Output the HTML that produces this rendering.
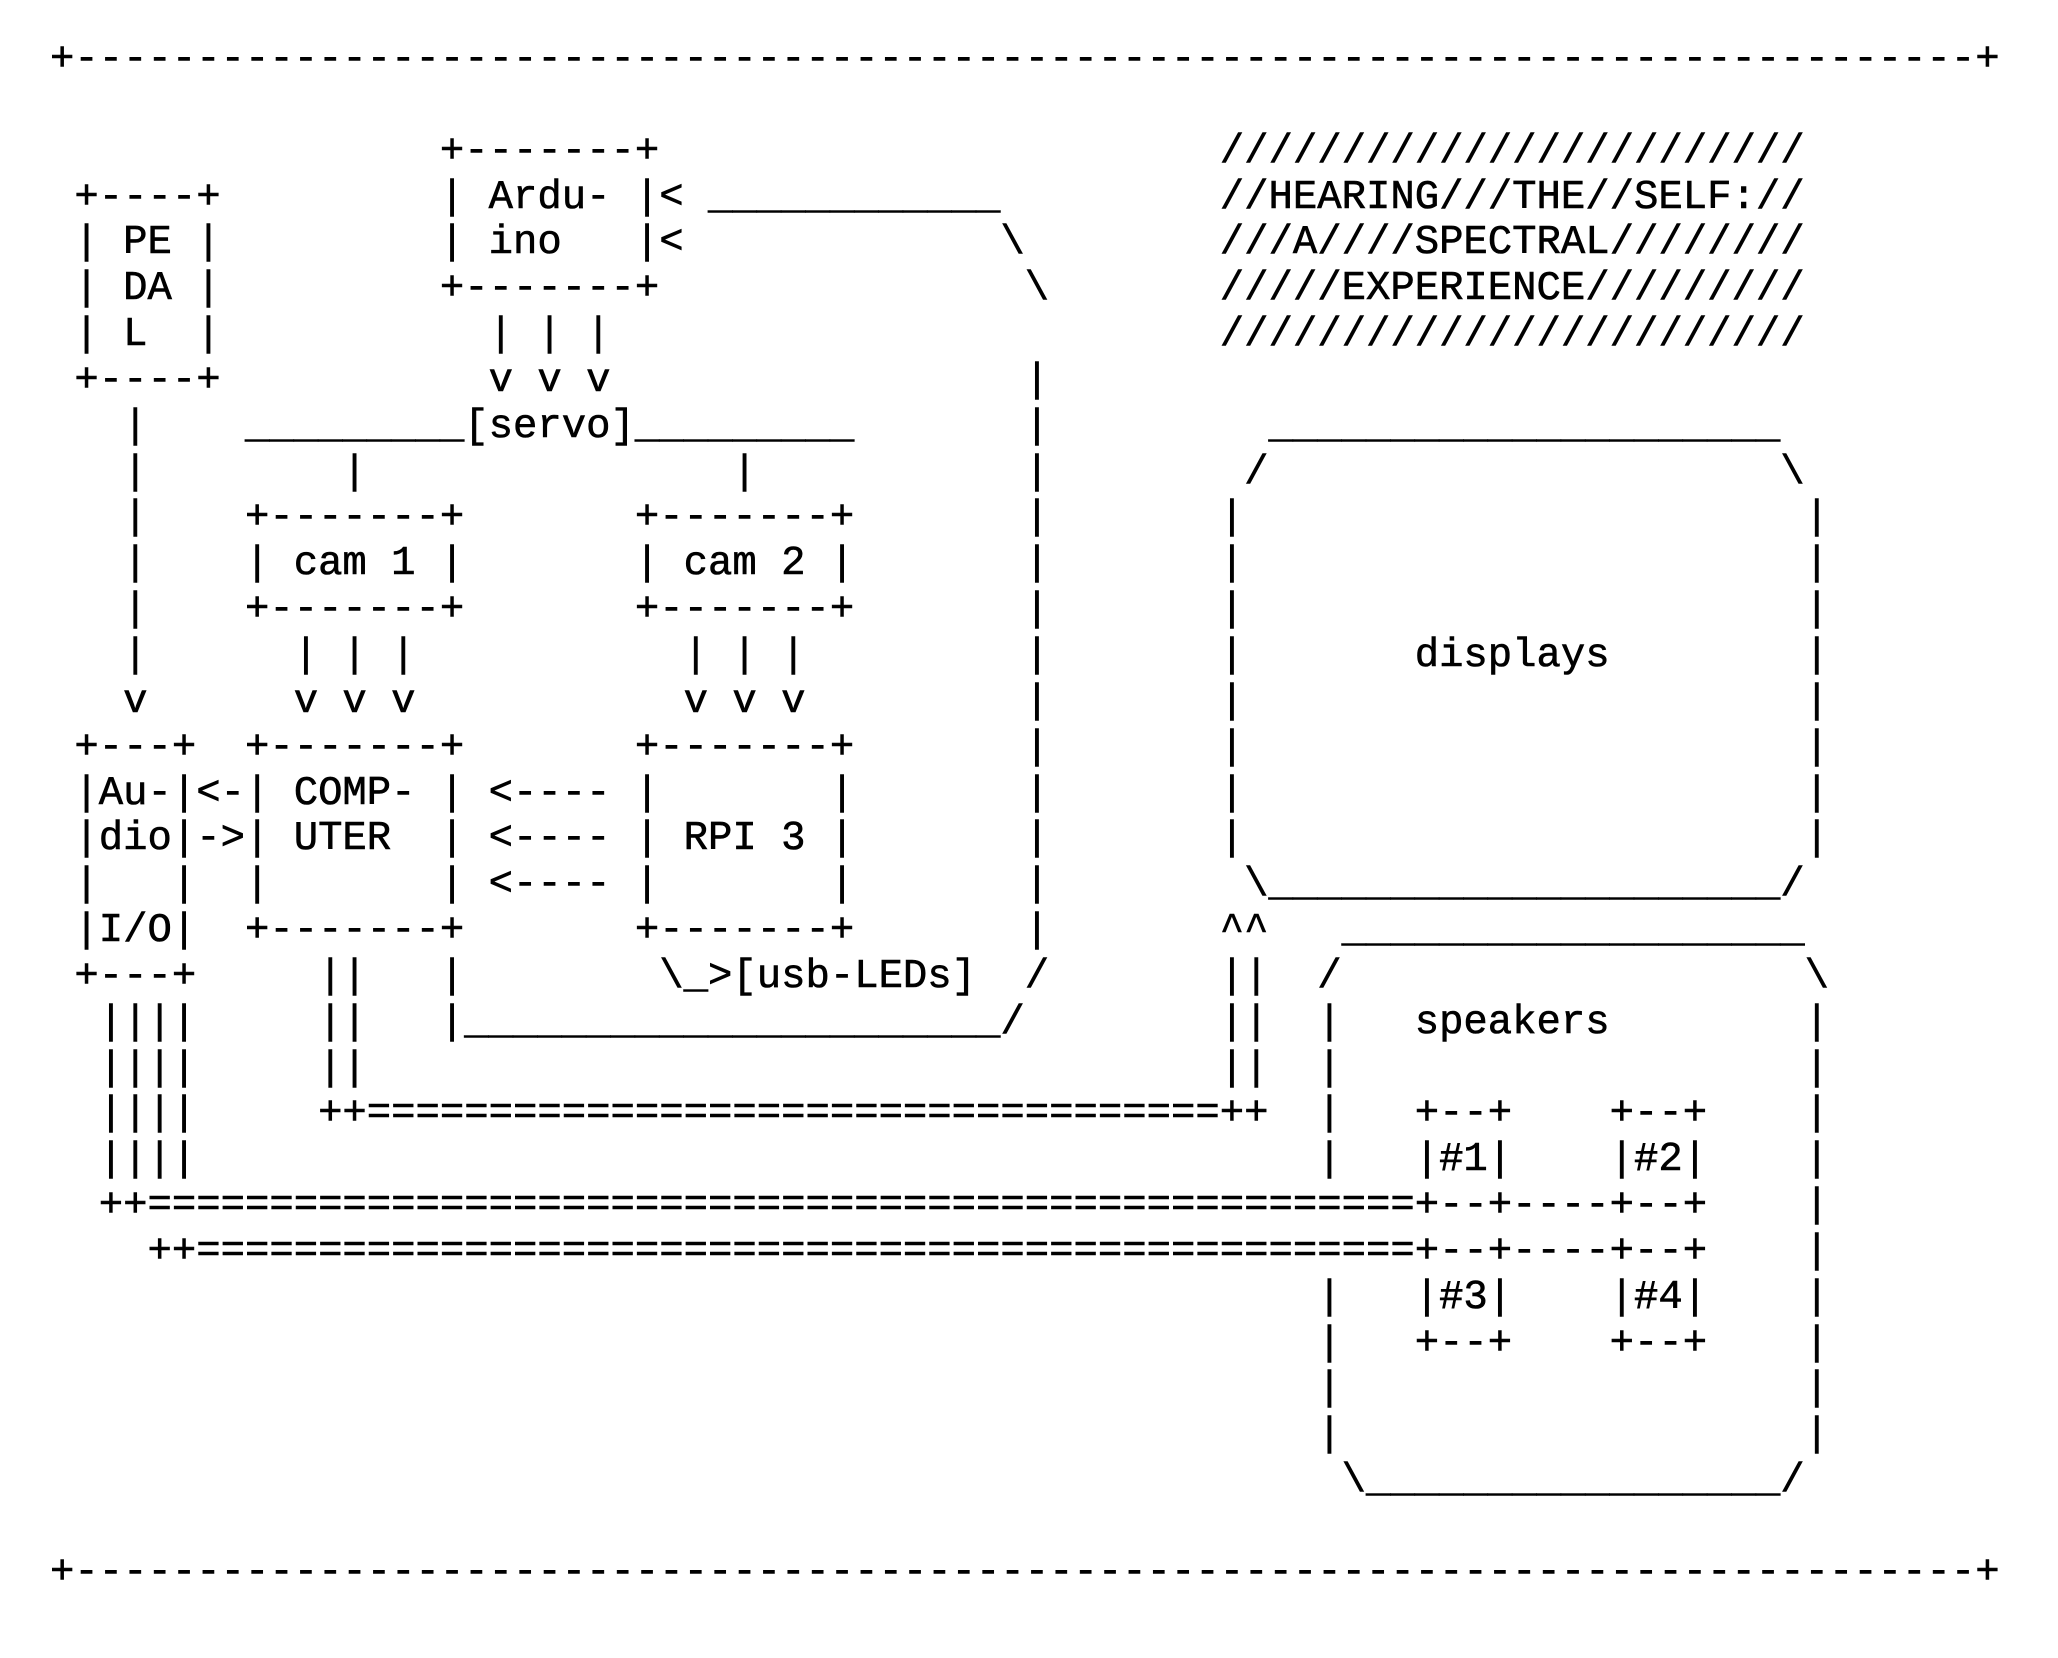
<!DOCTYPE html>
<html><head><meta charset="utf-8"><style>
html,body{margin:0;padding:0;background:#fff;}
body{width:2058px;height:1658px;position:relative;overflow:hidden;}
pre{position:absolute;left:50px;top:38px;margin:0;font-family:"Liberation Mono","DejaVu Sans Mono",monospace;font-size:40.62px;line-height:45.85px;color:#000;-webkit-text-stroke:0.6px #000;}
</style></head><body><pre>+------------------------------------------------------------------------------+

                +-------+                       ////////////////////////
 +----+         | Ardu- |&lt; ____________         //HEARING///THE//SELF://
 | PE |         | ino   |&lt;             \        ///A////SPECTRAL////////
 | DA |         +-------+               \       /////EXPERIENCE/////////
 | L  |           | | |                         ////////////////////////
 +----+           v v v                 |
   |    _________[servo]_________       |         _____________________
   |        |               |           |        /                     \
   |    +-------+       +-------+       |       |                       |
   |    | cam 1 |       | cam 2 |       |       |                       |
   |    +-------+       +-------+       |       |                       |
   |      | | |           | | |         |       |       displays        |
   v      v v v           v v v         |       |                       |
 +---+  +-------+       +-------+       |       |                       |
 |Au-|&lt;-| COMP- | &lt;---- |       |       |       |                       |
 |dio|-&gt;| UTER  | &lt;---- | RPI 3 |       |       |                       |
 |   |  |       | &lt;---- |       |       |        \_____________________/
 |I/O|  +-------+       +-------+       |       ^^   ___________________
 +---+     ||   |        \_&gt;[usb-LEDs]  /       ||  /                   \
  ||||     ||   |______________________/        ||  |   speakers        |
  ||||     ||                                   ||  |                   |
  ||||     ++===================================++  |   +--+    +--+    |
  ||||                                              |   |#1|    |#2|    |
  ++====================================================+--+----+--+    |
    ++==================================================+--+----+--+    |
                                                    |   |#3|    |#4|    |
                                                    |   +--+    +--+    |
                                                    |                   |
                                                    |                   |
                                                     \_________________/

+------------------------------------------------------------------------------+</pre></body></html>
